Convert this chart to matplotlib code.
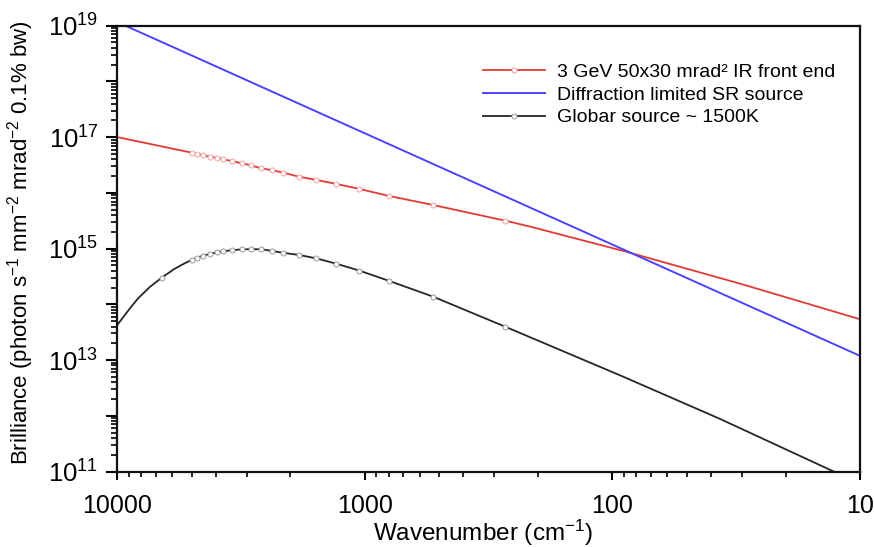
import numpy as np
import matplotlib
matplotlib.use("Agg")
import matplotlib.pyplot as plt
from matplotlib.ticker import LogLocator, FuncFormatter, NullFormatter

plt.rcParams['font.family'] = ['Liberation Sans', 'DejaVu Sans']
plt.rcParams['mathtext.fontset'] = 'custom'
plt.rcParams['mathtext.rm'] = 'Liberation Sans'
plt.rcParams['mathtext.it'] = 'Liberation Sans'
plt.rcParams['mathtext.default'] = 'regular'

# wavenumbers (cm-1) where the original had sample points
marker_nu = [5010, 4760, 4500, 4230, 3970, 3740, 3460, 3150, 2890, 2640,
             2370, 2140, 1850, 1570, 1310, 1055, 800, 532, 272]

# 3 GeV IR front end
ir_nu = [10000, 5250, 5010, 4760, 4500, 4230, 3970, 3740, 3460, 3150, 2890,
         2640, 2370, 2140, 1850, 1570, 1310, 1055, 800, 532, 272, 215, 88,
         30, 10]
ir_b = [1.0e17, 5.5e16, 5.27e16, 5.00e16, 4.73e16, 4.47e16, 4.24e16, 4.02e16,
        3.74e16, 3.40e16, 3.13e16, 2.77e16, 2.55e16, 2.31e16, 1.95e16, 1.71e16,
        1.45e16, 1.18e16, 8.81e15, 6.08e15, 3.18e15, 2.48e15, 8.8e14, 2.3e14,
        5.4e13]

# diffraction limited source
dl_nu = [10000, 10]
dl_b = [1.16e19, 1.19e13]

# globar 1500 K
gb_nu = [10000, 9620, 8900, 8240, 7400, 6630, 5900, 5330, 5010, 4760, 4500,
         4230, 3970, 3740, 3460, 3150, 2890, 2640, 2370, 2140, 1850, 1570,
         1310, 1055, 800, 532, 272, 93, 37, 13.2, 10]
gb_b = [4.3e13, 5.4e13, 8.5e13, 1.29e14, 2.05e14, 3.0e14, 4.3e14, 5.5e14,
        6.27e14, 6.90e14, 7.48e14, 8.04e14, 8.55e14, 8.98e14, 9.35e14, 9.68e14,
        9.75e14, 9.75e14, 9.10e14, 8.38e14, 7.71e14, 6.67e14, 5.38e14, 4.04e14,
        2.64e14, 1.38e14, 3.99e13, 5.3e12, 8.9e11, 1.07e11, 6e10]
gb_marker_nu = [6630] + marker_nu

fig = plt.figure(figsize=(8.74, 5.47), dpi=100)
ax = fig.add_axes([0.1344, 0.138, 0.8496, 0.815])

ir_marks = [i for i, v in enumerate(ir_nu) if v in marker_nu]
gb_marks = [i for i, v in enumerate(gb_nu) if v in gb_marker_nu]

ax.plot(ir_nu, ir_b, color='#e23a36', lw=1.3, marker='o', ms=3.6,
        mfc='white', mec='#f2a0a0', mew=0.7, markevery=ir_marks,
        label='3 GeV 50x30 mrad² IR front end')
ax.plot(dl_nu, dl_b, color='#4a44ff', lw=1.4,
        label='Diffraction limited SR source')
ax.plot(gb_nu, gb_b, color='#262626', lw=1.3, marker='o', ms=3.6,
        mfc='white', mec='#999999', mew=0.7, markevery=gb_marks,
        label='Globar source ~ 1500K')

ax.set_xscale('log')
ax.set_yscale('log')
ax.set_xlim(10000, 10)
ax.set_ylim(1e11, 1e19)

ax.yaxis.set_major_locator(LogLocator(base=10, numticks=20))
ax.yaxis.set_minor_locator(LogLocator(base=10, subs=np.arange(2, 10), numticks=20))
ax.yaxis.set_major_formatter(FuncFormatter(
    lambda v, p: r'$10^{%d}$' % round(np.log10(v)) if round(np.log10(v)) % 2 == 1 else ''))
ax.yaxis.set_minor_formatter(NullFormatter())
ax.xaxis.set_major_formatter(FuncFormatter(lambda v, p: '%d' % v))
ax.xaxis.set_minor_formatter(NullFormatter())

ax.tick_params(axis='y', which='major', direction='out', length=7.7, width=1.5,
               labelsize=18.5, pad=6)
ax.tick_params(axis='y', which='minor', direction='out', length=4, width=1.2)
ax.tick_params(axis='x', which='major', direction='out', length=5.5, width=1.5,
               labelsize=18, pad=11)
ax.tick_params(axis='x', which='minor', direction='out', length=3.5, width=1.2)

for s in ax.spines.values():
    s.set_linewidth(1.6)
    s.set_color('#111111')

ax.set_xlabel('Wavenumber (cm$^{-1}$)', fontsize=17.5)
ax.xaxis.set_label_coords(0.492, -0.138)
ax.xaxis.label.set_verticalalignment('center')
ax.set_ylabel('Brilliance (photon s$^{-1}$ mm$^{-2}$ mrad$^{-2}$ 0.1% bw)',
              fontsize=16)
ax.yaxis.set_label_coords(-0.131, 0.513)
ax.yaxis.label.set_verticalalignment('center')

ax.legend(loc='upper left', bbox_to_anchor=(0.5526, 0.884),
          bbox_transform=fig.transFigure, frameon=False, borderpad=0,
          borderaxespad=0, fontsize=14, handlelength=3.2, handletextpad=0.62,
          labelspacing=0.26)

fig.savefig('out.png', dpi=100)
